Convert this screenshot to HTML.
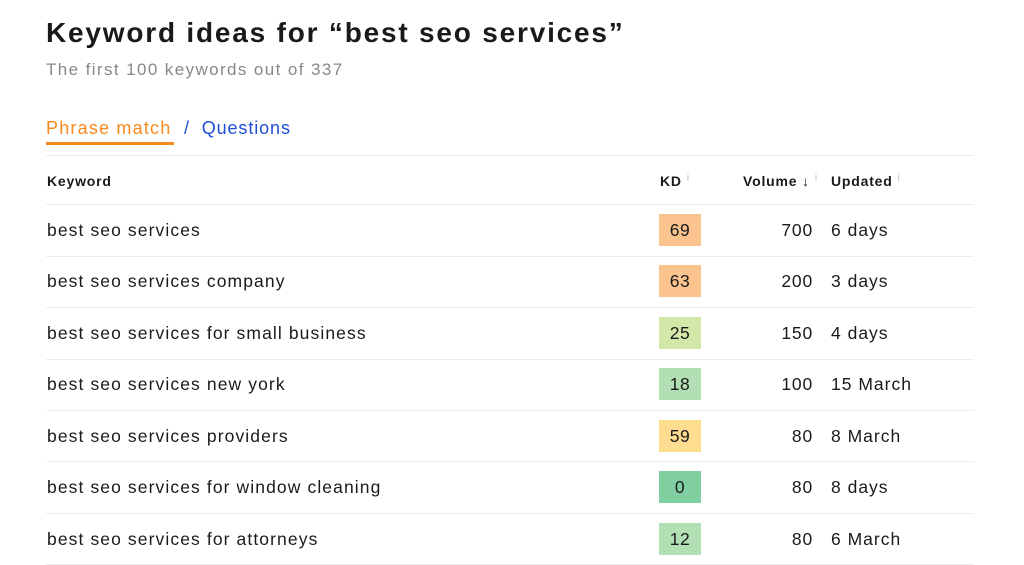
<!DOCTYPE html>
<html><head><style>
body{margin:0;width:1024px;height:565px;background:#fff;font-family:"Liberation Sans",sans-serif;color:#1a1a1a;position:relative;overflow:hidden}
.a{position:absolute;white-space:nowrap}
h1{position:absolute;left:46px;top:17px;margin:0;font-size:28px;font-weight:bold;letter-spacing:1.8px}
.sub{left:46px;top:60px;font-size:17px;color:#888;letter-spacing:1.4px}
.tab1{left:46px;top:118px;font-size:18px;color:#f68a1e;letter-spacing:1.2px}
.ul{left:46px;top:142px;width:128px;height:3px;background:#f68a1e}
.tab2{left:184px;top:118px;font-size:18px;color:#1f4fd6;letter-spacing:0.9px}
.line{left:46px;width:928px;height:1px;background:#ececec}
.hd{top:173px;font-size:14px;font-weight:bold;letter-spacing:0.8px}
.i{color:#bbb;font-size:10px;font-weight:normal;vertical-align:top;margin-left:5px}
.kw{left:47px;font-size:17.5px;letter-spacing:1.1px}
.kd{left:659px;width:42px;height:32px;font-size:17.5px;text-align:center;line-height:32px;letter-spacing:0.5px}
.vol{right:211px;font-size:17.5px;text-align:right;letter-spacing:0.8px}
.up{left:831px;font-size:17.5px;letter-spacing:1px}
</style></head><body>
<h1>Keyword ideas for “best seo services”</h1>
<div class="a sub">The first 100 keywords out of 337</div>
<div class="a tab1">Phrase match</div><div class="a ul"></div>
<div class="a tab2">/&nbsp; Questions</div>
<div class="a line" style="top:155px"></div>
<div class="a hd" style="left:47px">Keyword</div>
<div class="a hd" style="left:660px">KD<span class="i">i</span></div>
<div class="a hd" style="left:743px">Volume ↓<span class="i">i</span></div>
<div class="a hd" style="left:831px">Updated<span class="i">i</span></div>
<div class="a line" style="top:204px"></div>

<div class="a kw" style="top:220px">best seo services</div><div class="a kd" style="top:214px;background:#fbc38e">69</div><div class="a vol" style="top:220px">700</div><div class="a up" style="top:220px">6 days</div>
<div class="a line" style="top:256px"></div>
<div class="a kw" style="top:271px">best seo services company</div><div class="a kd" style="top:265px;background:#fbc38e">63</div><div class="a vol" style="top:271px">200</div><div class="a up" style="top:271px">3 days</div>
<div class="a line" style="top:307px"></div>
<div class="a kw" style="top:323px">best seo services for small business</div><div class="a kd" style="top:317px;background:#d3e8a8">25</div><div class="a vol" style="top:323px">150</div><div class="a up" style="top:323px">4 days</div>
<div class="a line" style="top:359px"></div>
<div class="a kw" style="top:374px">best seo services new york</div><div class="a kd" style="top:368px;background:#b2dfb4">18</div><div class="a vol" style="top:374px">100</div><div class="a up" style="top:374px">15 March</div>
<div class="a line" style="top:410px"></div>
<div class="a kw" style="top:426px">best seo services providers</div><div class="a kd" style="top:420px;background:#fddd8f">59</div><div class="a vol" style="top:426px">80</div><div class="a up" style="top:426px">8 March</div>
<div class="a line" style="top:461px"></div>
<div class="a kw" style="top:477px">best seo services for window cleaning</div><div class="a kd" style="top:471px;background:#80cfa0">0</div><div class="a vol" style="top:477px">80</div><div class="a up" style="top:477px">8 days</div>
<div class="a line" style="top:513px"></div>
<div class="a kw" style="top:529px">best seo services for attorneys</div><div class="a kd" style="top:523px;background:#b2dfb4">12</div><div class="a vol" style="top:529px">80</div><div class="a up" style="top:529px">6 March</div>
<div class="a line" style="top:564px"></div>
</body></html>
